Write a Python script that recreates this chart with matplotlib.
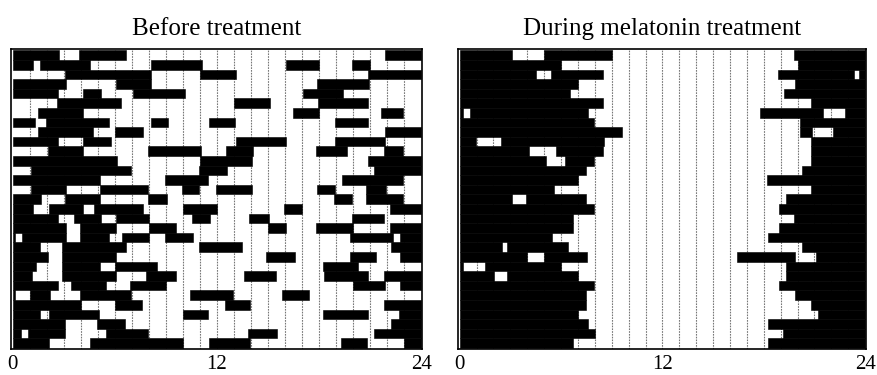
import matplotlib.pyplot as plt

plt.rcParams['font.family'] = ['Liberation Serif', 'DejaVu Serif']

titles = ['Before treatment', 'During melatonin treatment']
hour_ticks = [0, 12, 24]
hour_labels = ['0', '12', '24']

# sleep episodes (start hour, end hour) per day, one list per row
before = [
    [(0, 2.73), (3.88, 6.65), (21.9, 24)],
    [(0, 1.2), (1.59, 4.57), (8.12, 11.1), (16.06, 18.02), (19.92, 21.0)],
    [(3.06, 8.12), (11.0, 13.12), (20.9, 24)],
    [(0, 3.16), (6.06, 8.12), (17.86, 20.96)],
    [(0, 2.67), (4.14, 5.18), (7.04, 10.12), (17.08, 19.41)],
    [(2.61, 6.39), (13.0, 15.12), (17.96, 20.9)],
    [(1.49, 4.14), (16.49, 18.02), (21.65, 22.92)],
    [(0, 1.29), (1.98, 5.67), (8.12, 9.1), (11.55, 13.06), (18.94, 20.9)],
    [(1.49, 4.69), (6.0, 7.67), (21.9, 24)],
    [(0, 2.67), (4.14, 5.76), (13.12, 16.06), (18.94, 21.9)],
    [(2.08, 4.14), (7.96, 11.06), (12.53, 14.1), (17.82, 19.67), (21.84, 22.92)],
    [(0, 6.1), (11.0, 14.04), (20.9, 24)],
    [(1.1, 6.98), (10.94, 12.57), (21.24, 24)],
    [(0, 5.12), (8.94, 11.5), (19.37, 22.92)],
    [(1.1, 3.16), (5.12, 7.96), (9.92, 10.94), (11.94, 14.04), (17.86, 18.94), (20.76, 21.94)],
    [(0, 1.69), (3.06, 5.12), (7.96, 9.04), (18.88, 19.92), (20.76, 22.92)],
    [(0, 1.2), (2.14, 4.14), (4.76, 7.67), (9.98, 11.98), (15.94, 17.02), (22.18, 24)],
    [(0, 2.67), (3.59, 5.18), (6.06, 8.02), (10.51, 11.6), (13.9, 15.08), (19.92, 21.84)],
    [(0, 3.12), (3.98, 6.06), (8.02, 9.59), (15.02, 16.06), (17.82, 19.98), (22.18, 24)],
    [(0, 0.12), (0.57, 3.12), (3.98, 5.67), (6.45, 8.02), (8.94, 10.57), (19.8, 22.33), (22.76, 24)],
    [(0, 1.59), (2.92, 6.65), (10.96, 13.45), (22.24, 24)],
    [(0, 2.08), (2.92, 6.06), (14.88, 16.59), (19.8, 21.35), (22.76, 24)],
    [(0, 1.35), (2.92, 5.12), (6.0, 8.49), (18.25, 20.27)],
    [(0, 1.16), (2.92, 6.06), (7.86, 9.59), (13.59, 15.47), (18.29, 20.9), (21.8, 24)],
    [(0, 2.67), (3.45, 5.51), (6.88, 8.98), (19.98, 21.9), (22.76, 24)],
    [(0, 0.12), (1.0, 2.18), (3.94, 6.98), (10.41, 12.92), (15.84, 17.41)],
    [(0, 4.04), (6.0, 7.57), (12.47, 13.94), (21.8, 24)],
    [(0, 1.59), (2.14, 5.06), (9.98, 11.49), (18.25, 20.86), (22.7, 24)],
    [(0, 3.06), (4.98, 6.59), (22.24, 24)],
    [(0, 0.51), (0.9, 3.06), (5.47, 7.96), (13.84, 15.51), (21.24, 24)],
    [(0, 2.14), (4.53, 9.98), (11.55, 13.94), (19.29, 20.8), (23.0, 24)],
]

during = [
    [(0, 3.07), (4.97, 8.99), (19.79, 24)],
    [(0, 6.01), (20.03, 24)],
    [(0, 4.54), (5.42, 8.5), (18.85, 23.36), (23.66, 24)],
    [(0, 6.99), (19.83, 24)],
    [(0, 6.5), (19.2, 24)],
    [(0, 8.5), (20.77, 24)],
    [(0, 0.19), (0.62, 7.58), (17.77, 21.5), (22.78, 24)],
    [(0, 7.97), (20.13, 24)],
    [(0, 9.6), (20.13, 20.85), (22.09, 24)],
    [(0, 0.97), (2.42, 8.56), (20.77, 24)],
    [(0, 4.09), (5.72, 8.5), (20.77, 24)],
    [(0, 5.09), (6.26, 7.97), (20.77, 24)],
    [(0, 7.48), (20.27, 24)],
    [(0, 6.99), (18.17, 24)],
    [(0, 5.56), (20.77, 24)],
    [(0, 3.07), (3.91, 7.48), (19.34, 24)],
    [(0, 7.97), (18.89, 24)],
    [(0, 6.7), (19.79, 24)],
    [(0, 6.7), (18.89, 24)],
    [(0, 5.48), (18.23, 24)],
    [(0, 2.52), (2.81, 6.4), (20.27, 24)],
    [(0, 4.01), (4.99, 7.52), (16.44, 19.87), (21.11, 24)],
    [(0, 0.19), (1.5, 5.97), (19.34, 24)],
    [(0, 2.03), (2.81, 6.99), (19.34, 24)],
    [(0, 7.97), (18.89, 24)],
    [(0, 7.48), (19.83, 24)],
    [(0, 7.48), (20.77, 24)],
    [(0, 6.99), (21.21, 24)],
    [(0, 7.58), (18.23, 24)],
    [(0, 8.01), (19.15, 24)],
    [(0, 6.7), (18.23, 24)],
]


def draw_panel(ax, rows, title):
    # hourly dotted guides
    for h in range(1, 24):
        ax.axvline(h, color='#777777', lw=0.8, ls=(0, (1.5, 1)), zorder=1)
    for i, spans in enumerate(rows):
        ax.broken_barh([(s, e - s) for s, e in spans], (i, 1),
                       facecolors='black', edgecolor='black', lw=0.4, zorder=2)
    ax.set_xlim(-0.1, 24.05)
    ax.set_ylim(len(rows) + 0.05, -0.2)
    ax.set_xticks(hour_ticks)
    ax.set_xticklabels(hour_labels)
    ax.set_yticks([])
    ax.tick_params(axis='x', length=0, pad=5, labelsize=15)
    for sp in ax.spines.values():
        sp.set_linewidth(1.2)
    ax.set_title(title, fontsize=18, pad=10)


fig = plt.figure(figsize=(8.78, 3.75), dpi=100)
ax1 = fig.add_axes([11 / 878, 26.5 / 375, 411 / 878, 300 / 375])
ax2 = fig.add_axes([458 / 878, 26.5 / 375, 408 / 878, 300 / 375])

draw_panel(ax1, before, titles[0])
draw_panel(ax2, during, titles[1])

fig.savefig('out.png', dpi=100)
